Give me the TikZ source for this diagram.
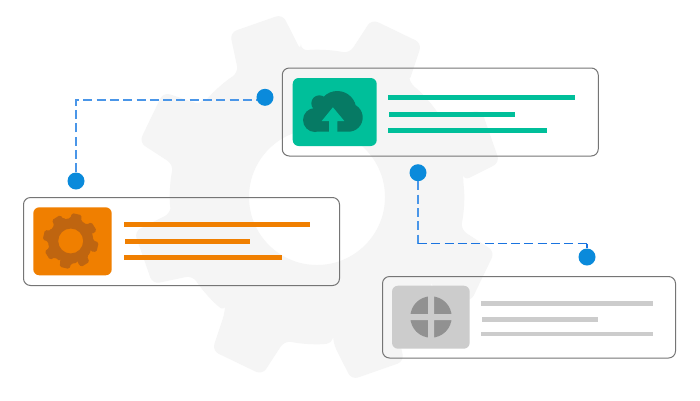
\documentclass[tikz,border=0pt]{standalone}
\definecolor{gearbg}{HTML}{F5F5F5}
\definecolor{cardline}{HTML}{757575}
\definecolor{tealc}{HTML}{00BF9A}
\definecolor{tealdark}{HTML}{067A64}
\definecolor{orangec}{HTML}{F07F00}
\definecolor{orangedark}{HTML}{BF6510}
\definecolor{grayc}{HTML}{CCCCCC}
\definecolor{graydark}{HTML}{919191}
\definecolor{dotc}{HTML}{0A8ADB}
\definecolor{dashc}{HTML}{4A96E8}
\definecolor{dashd}{HTML}{1A74E0}
% #1 cx, #2 cy, #3 first tooth angle, #4 body r, #5 tip r, #6 tip half-angle, #7 base half-angle, #8 hole r, #9 corner
\newcommand{\mygear}[9]{%
  \begin{scope}[shift={(#1,#2)}]
  \fill[even odd rule,rounded corners=#9pt]
    (#3-#7:#4pt)
    \foreach \k in {0,...,7}{
      -- ({#3+45*\k-#7}:#4pt)
      -- ({#3+45*\k-#6}:#5pt)
      -- ({#3+45*\k+#6}:#5pt)
      -- ({#3+45*\k+#7}:#4pt)
      arc[start angle={#3+45*\k+#7},end angle={#3+45*\k+45-#7},radius=#4pt]
    } -- cycle
    [sharp corners] (0,0) circle[radius=#8pt];
  \end{scope}}
\tikzset{
  x=1pt,y=-1pt,
  card/.style={draw=cardline,line width=1pt,rounded corners=7pt,inner sep=0pt,fill=none},
  iconbox/.style={rounded corners=6pt,inner sep=0pt,draw=none},
  bar/.style={line width=5pt},
  dot/.style={circle,fill=dotc,inner sep=0pt,minimum size=17pt},
  link/.style={draw=dashc,line width=1.4pt,dash pattern=on 9pt off 4.3pt},
  linkthin/.style={draw=dashd,line width=1.2pt,dash pattern=on 9pt off 4.3pt},
}
\begin{document}
\begin{tikzpicture}
\useasboundingbox (0,0) rectangle (700,400);
\fill[white] (0,0) rectangle (700,400);
% background gear
\begingroup\color{gearbg}
\mygear{317}{197}{19.3}{147}{186}{8.6}{13}{68}{7}
\endgroup
% cards
\node[card,minimum width=316pt,minimum height=88pt] (cardtop) at (440.25,112) {};
\node[card,minimum width=316pt,minimum height=88pt] (cardleft) at (181.5,241.5) {};
\node[card,minimum width=293pt,minimum height=81.5pt] (cardright) at (529,317.25) {};
% icon tiles
\node[iconbox,fill=tealc,minimum width=84pt,minimum height=68pt] (icontop) at (334.7,112) {};
\node[iconbox,fill=orangec,minimum width=78.4pt,minimum height=68pt] (iconleft) at (72.5,241.3) {};
\node[iconbox,fill=grayc,minimum width=77.7pt,minimum height=63pt] (iconright) at (430.85,317.2) {};
% text bars
\draw[bar,tealc] (388.3,97.3) -- (575,97.3);
\draw[bar,tealc] (389.3,114.3) -- (515,114.3);
\draw[bar,tealc] (388.3,130.3) -- (547,130.3);
\draw[bar,orangec] (124,224) -- (310,224);
\draw[bar,orangec] (125,241) -- (250,241);
\draw[bar,orangec] (124,257) -- (282,257);
\draw[bar,grayc,line width=4.5pt] (481,303.7) -- (653,303.7);
\draw[bar,grayc,line width=4.5pt] (482,319.5) -- (598,319.5);
\draw[bar,grayc,line width=4.5pt] (481,334.2) -- (653,334.2);
% cloud icon
\fill[tealdark] (315,120) circle[radius=12pt] (319.3,103.3) circle[radius=8pt]
  (337.3,110) circle[radius=19pt] (348.5,117.5) circle[radius=14.2pt]
  (315,112) rectangle (348.5,131.7);
\fill[tealc] (332.9,107.3) -- (344.3,121) -- (337.3,121) -- (337.3,132.5) -- (329,132.5) -- (329,121) -- (321.7,121) -- cycle;
% small gear icon
\begingroup\color{orangedark}
\mygear{70.7}{241}{32}{22.5}{28}{10}{14.5}{12.5}{1.5}
\endgroup
% cross icon
\fill[graydark] (431,317) circle[radius=20.7pt];
\fill[grayc] (428,295) rectangle (434,339) (409,314) rectangle (453,320);
% dots
\node[dot] (dotA) at (265,97.3) {};
\node[dot] (dotB) at (76,181) {};
\node[dot] (dotC) at (418,172.7) {};
\node[dot] (dotD) at (587,257) {};
% connectors
\coordinate (bendA) at (76,99.8);
\coordinate (bendB) at (418,243.6);
\coordinate (bendC) at (587,243.6);
\draw[link] (dotB) -- (bendA) -- (bendA -| dotA.west);
\draw[link] (dotC) -- (bendB);
\draw[linkthin] (bendB) -- (bendC);
\draw[draw=dashd,line width=1.2pt] (bendC) -- (dotD);
\end{tikzpicture}
\end{document}
